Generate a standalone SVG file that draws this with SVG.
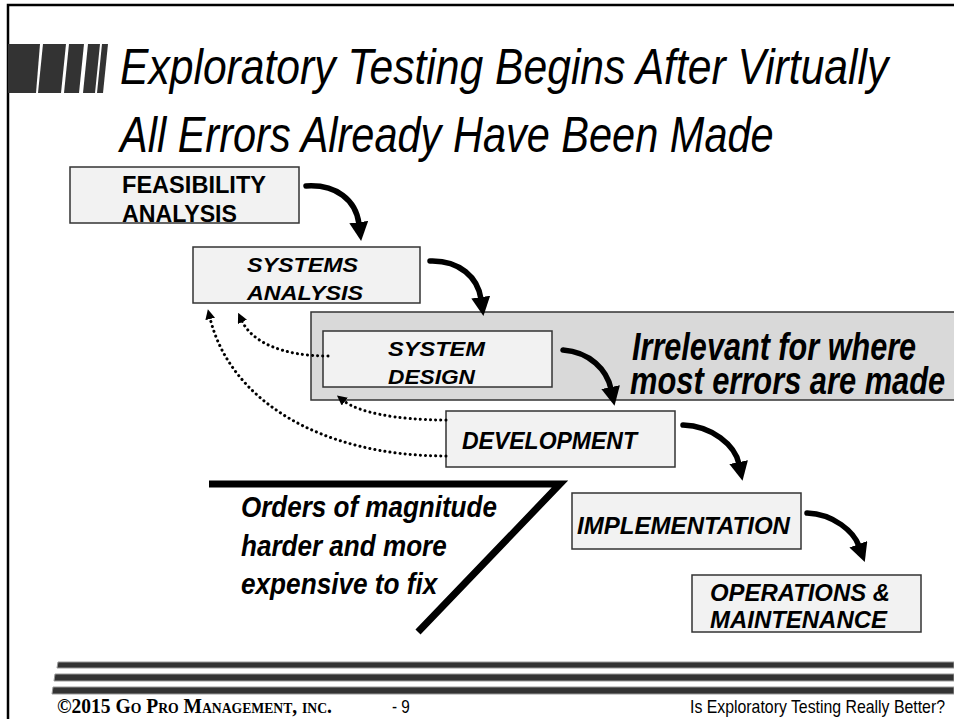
<svg xmlns="http://www.w3.org/2000/svg" width="954" height="719" viewBox="0 0 954 719">
<defs>
<style>
.box{fill:#f2f2f2;stroke:#333;stroke-width:1.5}
.bt{font-family:"Liberation Sans",Arial,sans-serif;font-weight:bold;font-style:italic;font-size:23px;fill:#000}
.sm{font-size:20px}
.title{font-family:"Liberation Sans",Arial,sans-serif;font-style:italic;font-size:50px;fill:#000}
.big{font-family:"Liberation Sans",Arial,sans-serif;font-style:italic;font-weight:bold;fill:#000}
.arr{fill:none;stroke:#000;stroke-width:5.5;stroke-linecap:round}
.dot{fill:none;stroke:#000;stroke-width:3;stroke-dasharray:0.1 5;stroke-linecap:round}
.bar{fill:#333}
.fbar{fill:#333;stroke:#999;stroke-width:1}
.ft{font-family:"Liberation Sans",Arial,sans-serif;font-size:18px;fill:#000}
</style>
<marker id="ah" viewBox="0 0 10 10" refX="1" refY="5" markerWidth="19" markerHeight="19" markerUnits="userSpaceOnUse" orient="auto">
<path d="M0,0 L10,5 L0,10 z" fill="#000"/>
</marker>
<marker id="dh" viewBox="0 0 10 10" refX="1" refY="5" markerWidth="10" markerHeight="10" markerUnits="userSpaceOnUse" orient="auto">
<path d="M0,0 L10,5 L0,10 z" fill="#000"/>
</marker>
</defs>
<rect x="0" y="0" width="954" height="719" fill="#fff"/>
<path d="M8,719 V5 H954" fill="none" stroke="#000" stroke-width="2.5"/>
<g id="title-bars">
<polygon class="bar" points="8,44 40,44 36,93 8,93"/>
<polygon class="bar" points="43,44 66,44 61,93 38,93"/>
<polygon class="bar" points="69,44 84,44 79,93 64,93"/>
<polygon class="bar" points="88,44 100,44 95,93 83,93"/>
<polygon class="bar" points="102,44 108,44 103,93 97,93"/>
</g>
<g id="title">
<text class="title" transform="translate(120,84) scale(0.78,1)" textLength="985" lengthAdjust="spacingAndGlyphs">Exploratory Testing Begins After Virtually</text>
<text class="title" transform="translate(120,152) scale(0.78,1)" textLength="838" lengthAdjust="spacingAndGlyphs">All Errors Already Have Been Made</text>
</g>
<g id="irrelevant">
<rect x="311" y="312" width="650" height="88" fill="#d9d9d9" stroke="#333" stroke-width="1.5"/>
<text class="big" font-size="38" transform="translate(632,360) scale(0.74,1)" textLength="384" lengthAdjust="spacingAndGlyphs">Irrelevant for where</text>
<text class="big" font-size="38" transform="translate(630,394) scale(0.74,1)" textLength="426" lengthAdjust="spacingAndGlyphs">most errors are made</text>
</g>
<g id="feasibility">
<rect class="box" x="70" y="167" width="229" height="56"/>
<text class="bt" style="font-style:normal" x="122" y="193" textLength="144" lengthAdjust="spacingAndGlyphs">FEASIBILITY</text>
<text class="bt" style="font-style:normal" x="122" y="222" textLength="115" lengthAdjust="spacingAndGlyphs">ANALYSIS</text>
</g>
<g id="systems-analysis">
<rect class="box" x="193" y="247" width="227" height="56"/>
<text class="bt sm" x="247" y="272" textLength="111" lengthAdjust="spacingAndGlyphs">SYSTEMS</text>
<text class="bt sm" x="247" y="300" textLength="116" lengthAdjust="spacingAndGlyphs">ANALYSIS</text>
</g>
<g id="system-design">
<rect class="box" x="323" y="331" width="229" height="56"/>
<text class="bt sm" x="388" y="356" textLength="97" lengthAdjust="spacingAndGlyphs">SYSTEM</text>
<text class="bt sm" x="388" y="384" textLength="87" lengthAdjust="spacingAndGlyphs">DESIGN</text>
</g>
<g id="development">
<rect class="box" x="446" y="411" width="229" height="56"/>
<text class="bt" x="462" y="449" textLength="175" lengthAdjust="spacingAndGlyphs">DEVELOPMENT</text>
</g>
<g id="implementation">
<rect class="box" x="572" y="493" width="229" height="56"/>
<text class="bt" x="577" y="534" textLength="213" lengthAdjust="spacingAndGlyphs">IMPLEMENTATION</text>
</g>
<g id="operations">
<rect class="box" x="692" y="575" width="229" height="57"/>
<text class="bt" x="710" y="601" textLength="180" lengthAdjust="spacingAndGlyphs">OPERATIONS &amp;</text>
<text class="bt" x="710" y="628" textLength="177" lengthAdjust="spacingAndGlyphs">MAINTENANCE</text>
</g>
<g id="connectors">
<path class="arr" marker-end="url(#ah)" d="M306,186 C336,184 356,200 359,224"/>
<path class="arr" marker-end="url(#ah)" d="M430,261 C460,260 478,278 481,299"/>
<path class="arr" marker-end="url(#ah)" d="M563,350 C590,352 607,370 611,389"/>
<path class="arr" marker-end="url(#ah)" d="M683,425 C712,426 735,445 739,464"/>
<path class="arr" marker-end="url(#ah)" d="M807,513 C834,514 854,532 859,546"/>
<path class="dot" marker-end="url(#dh)" d="M328,356 C282,356 252,342 242,321"/>
<path class="dot" marker-end="url(#dh)" d="M446,420 C395,420 358,412 344,401"/>
<path class="dot" marker-end="url(#dh)" d="M446,456 C320,456 230,400 210,318"/>
</g>
<g id="cost-line">
<polyline points="209,484 560,484 418,632" fill="none" stroke="#000" stroke-width="7" stroke-linejoin="miter"/>
<text class="big" font-size="29" transform="translate(241,517) scale(0.85,1)" textLength="301" lengthAdjust="spacingAndGlyphs">Orders of magnitude</text>
<text class="big" font-size="29" transform="translate(241,556) scale(0.85,1)" textLength="242" lengthAdjust="spacingAndGlyphs">harder and more</text>
<text class="big" font-size="29" transform="translate(241,594) scale(0.85,1)" textLength="231" lengthAdjust="spacingAndGlyphs">expensive to fix</text>
</g>
<g id="footer">
<polygon class="fbar" points="58,662 954,662 954,668 57,668"/>
<polygon class="fbar" points="55,674 954,674 954,681 54,681"/>
<polygon class="fbar" points="53,687 954,687 954,694 52,694"/>
<text x="57" y="713" font-family="'Liberation Serif','Times New Roman',serif" font-weight="bold" font-size="20" style="font-variant:small-caps" textLength="275" lengthAdjust="spacingAndGlyphs">©2015 Go Pro Management, inc.</text>
<text class="ft" transform="translate(392,713) scale(0.85,1)">- 9</text>
<text class="ft" text-anchor="end" transform="translate(945,713) scale(0.85,1)" textLength="300" lengthAdjust="spacingAndGlyphs">Is Exploratory Testing Really Better?</text>
</g>
</svg>
